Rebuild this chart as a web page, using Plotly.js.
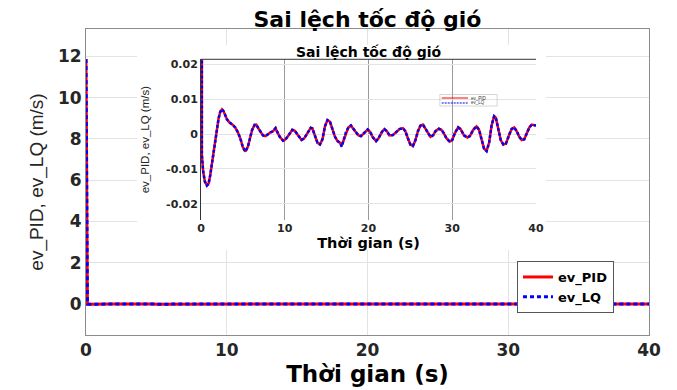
<!DOCTYPE html>
<html>
<head>
<meta charset="utf-8">
<script src="https://cdn.plot.ly/plotly-3.0.1.min.js"></script>
<style>html,body{margin:0;padding:0;background:#fff;}#chart{width:677px;height:390px;}</style>
</head>
<body>
<div id="chart"></div>
<script>
// ---- data ----
const time = [0, 0.1, 0.25, 0.45, 0.7, 0.9, 1.1, 1.3, 1.5, 1.7, 1.9, 2.1, 2.3, 2.5, 2.7, 2.9, 3.1, 3.4, 3.8, 4.1, 4.4, 4.7, 5.0, 5.3, 5.6, 5.85, 6.1, 6.4, 6.6, 6.85, 7.1, 7.4, 7.7, 8.0, 8.3, 8.6, 8.9, 9.1, 9.4, 9.8, 10.1, 10.5, 10.9, 11.2, 11.6, 12.0, 12.3, 12.7, 13.1, 13.3, 13.6, 13.9, 14.2, 14.5, 14.8, 15.1, 15.4, 15.7, 16.0, 16.3, 16.6, 16.8, 17.0, 17.3, 17.6, 17.9, 18.2, 18.5, 18.8, 19.1, 19.5, 19.9, 20.2, 20.5, 20.9, 21.2, 21.6, 21.9, 22.2, 22.5, 22.9, 23.3, 23.7, 24.1, 24.4, 24.7, 25.0, 25.3, 25.6, 25.9, 26.2, 26.5, 26.8, 27.1, 27.4, 27.7, 28.0, 28.4, 28.7, 29.0, 29.3, 29.7, 30.0, 30.3, 30.7, 31.0, 31.4, 31.8, 32.1, 32.5, 32.9, 33.2, 33.5, 33.8, 34.1, 34.4, 34.7, 35.0, 35.2, 35.5, 35.8, 36.1, 36.4, 36.8, 37.1, 37.4, 37.7, 38.0, 38.3, 38.6, 38.9, 39.2, 39.5, 39.8, 40.0];
const evPID = [11.87, -0.006, -0.0105, -0.0135, -0.0147, -0.0142, -0.0118, -0.0085, -0.0052, -0.0018, 0.0015, 0.0045, 0.0064, 0.0071, 0.0065, 0.0054, 0.0042, 0.0033, 0.0026, 0.0018, 0.0005, -0.0013, -0.0038, -0.005, -0.0036, -0.0012, 0.0012, 0.0026, 0.0027, 0.0016, 0.0005, -0.0004, -0.0006, 0.0001, 0.0005, 0.0008, 0.0017, 0.0006, -0.0008, -0.0019, -0.0015, -0.0002, 0.0012, 0.0009, -0.0004, -0.0017, -0.0013, 0.0003, 0.0018, 0.0016, -0.0006, -0.0025, -0.003, -0.0015, 0.0022, 0.004, 0.0035, 0.001, -0.0008, -0.002, -0.0025, -0.0033, -0.002, 0.0005, 0.0019, 0.0024, 0.0015, 0.0006, -0.0004, -0.0006, 0.0004, 0.0013, 0.0006, -0.0009, -0.002, -0.0012, 0.0006, 0.0014, 0.0008, -0.0004, -0.0003, 0.0006, 0.0014, 0.0017, 0.0008, -0.0012, -0.003, -0.0034, -0.0018, 0.0008, 0.0024, 0.0027, 0.0016, 0.0002, -0.0008, -0.0004, 0.0008, 0.0015, 0.0012, 0.0002, -0.0012, -0.0022, -0.0017, 0.0002, 0.0019, 0.0014, -0.0004, -0.001, -0.0006, 0.0012, 0.0022, 0.0012, -0.0015, -0.0042, -0.0048, -0.0025, 0.0025, 0.0051, 0.0047, 0.0012, -0.0018, -0.003, -0.0028, -0.0002, 0.0015, 0.0019, 0.0008, -0.0008, -0.0017, -0.0015, 0.0002, 0.0019, 0.0027, 0.0026, 0.0024];
const evLQ = [11.87, -0.006, -0.0106, -0.0136, -0.0148, -0.0143, -0.0118, -0.0085, -0.0052, -0.0018, 0.0015, 0.0045, 0.0064, 0.0071, 0.0065, 0.0054, 0.0042, 0.0033, 0.0026, 0.0018, 0.0005, -0.0013, -0.0038, -0.005, -0.0036, -0.0012, 0.0012, 0.0026, 0.0027, 0.0016, 0.0005, -0.0004, -0.0006, 0.0001, 0.0005, 0.0008, 0.0017, 0.0006, -0.0008, -0.0019, -0.0015, -0.0002, 0.0012, 0.0009, -0.0004, -0.0017, -0.0013, 0.0003, 0.0018, 0.0016, -0.0006, -0.0025, -0.003, -0.0015, 0.0022, 0.004, 0.0035, 0.001, -0.0008, -0.002, -0.0026, -0.0036, -0.002, 0.0005, 0.0019, 0.0025, 0.0015, 0.0006, -0.0004, -0.0006, 0.0004, 0.0013, 0.0006, -0.0009, -0.002, -0.0012, 0.0006, 0.0014, 0.0008, -0.0004, -0.0003, 0.0006, 0.0014, 0.0017, 0.0008, -0.0012, -0.003, -0.0034, -0.0018, 0.0008, 0.0024, 0.0027, 0.0016, 0.0002, -0.0008, -0.0004, 0.0008, 0.0015, 0.0012, 0.0002, -0.0012, -0.0022, -0.0017, 0.0002, 0.0019, 0.0014, -0.0004, -0.001, -0.0006, 0.0012, 0.0022, 0.0012, -0.0015, -0.0042, -0.0049, -0.0025, 0.0025, 0.0051, 0.0047, 0.0012, -0.0018, -0.003, -0.0028, -0.0002, 0.0015, 0.0019, 0.0008, -0.0008, -0.0017, -0.0015, 0.0002, 0.0019, 0.0027, 0.0026, 0.0024];
const seriesNames = ['ev_PID', 'ev_LQ'];
const mainTicksX = [0, 10, 20, 30, 40];
const mainTicksY = [0, 2, 4, 6, 8, 10, 12];
const insetTicksY = [-0.02, -0.01, 0, 0.01, 0.02];
const insetTickTextY = ['-0.02', '-0.01', '0', '0.01', '0.02'];
const titleText = 'Sai lệch tốc độ gió';
const xTitleText = 'Thời gian (s)';
const yTitleText = 'ev_PID, ev_LQ (m/s)';

// ---- styles ----
const RED = '#ff0000', BLUE = '#0000ff';
const BOLD = 'DejaVu Sans';
const TXT = '#262626';

const traces = [
  {x: time, y: evPID, name: seriesNames[0], type: 'scatter', mode: 'lines',
   line: {color: RED, width: 3}, xaxis: 'x', yaxis: 'y'},
  {x: time, y: evLQ, name: seriesNames[1], type: 'scatter', mode: 'lines',
   line: {color: BLUE, width: 3, dash: '4px,3px'}, xaxis: 'x', yaxis: 'y'},
  // blank white panel behind the inset (no data)
  {x: [], y: [], type: 'scatter', mode: 'lines', showlegend: false, hoverinfo: 'skip',
   xaxis: 'x2', yaxis: 'y2'},
  {x: time, y: evPID, name: seriesNames[0], type: 'scatter', mode: 'lines', showlegend: false,
   line: {color: RED, width: 2.5}, xaxis: 'x3', yaxis: 'y3'},
  {x: time, y: evLQ, name: seriesNames[1], type: 'scatter', mode: 'lines', showlegend: false,
   line: {color: BLUE, width: 2.5, dash: '3px,2px'}, xaxis: 'x3', yaxis: 'y3'}
];

const layout = {
  width: 677, height: 390,
  margin: {l: 86, r: 28, t: 29, b: 55},
  paper_bgcolor: '#ffffff', plot_bgcolor: '#ffffff',
  showlegend: true,
  title: {text: titleText, x: 0.5, xref: 'paper', xanchor: 'center',
          y: 0.95, yref: 'container', yanchor: 'middle',
          font: {family: BOLD, size: 22, weight: 'bold', color: '#000'}},
  xaxis: {domain: [0, 1], range: [0, 40], tickvals: mainTicksX, ticks: '',
          showgrid: true, gridcolor: '#e3e3e3', gridwidth: 1, zeroline: false,
          showline: true, mirror: true, linecolor: '#8c8c8c', linewidth: 1,
          tickfont: {family: BOLD, size: 17, weight: 'bold', color: TXT},
          title: {text: xTitleText, font: {family: BOLD, size: 23, weight: 'bold', color: '#000'}, standoff: 6}},
  yaxis: {domain: [0, 1], range: [-1.5, 13.33], tickvals: mainTicksY, ticks: '',
          showgrid: true, gridcolor: '#e3e3e3', gridwidth: 1, zeroline: false,
          showline: true, mirror: true, linecolor: '#8c8c8c', linewidth: 1,
          tickfont: {family: BOLD, size: 17, weight: 'bold', color: TXT},
          title: {text: yTitleText, font: {family: 'Liberation Sans', size: 19, color: TXT}, standoff: 9}},
  xaxis2: {domain: [0.0906, 0.817], anchor: 'y2', range: [0, 1], visible: false, fixedrange: true},
  yaxis2: {domain: [0.278, 0.948], anchor: 'x2', range: [0, 1], visible: false, fixedrange: true},
  xaxis3: {domain: [0.2043, 0.7993], anchor: 'y3', range: [0, 40], tickvals: mainTicksX, ticks: '',
           showgrid: true, gridcolor: '#9a9a9a', gridwidth: 1, zeroline: false, showline: false,
           tickfont: {family: BOLD, size: 11, weight: 'bold', color: TXT},
           title: {text: xTitleText, font: {family: BOLD, size: 14.5, weight: 'bold', color: '#000'}, standoff: 2}},
  yaxis3: {domain: [0.376, 0.901], anchor: 'x3', range: [-0.0246, 0.0214], tickvals: insetTicksY,
           ticktext: insetTickTextY, ticks: '',
           showgrid: true, gridcolor: '#e3e3e3', gridwidth: 1, zeroline: false,
           showline: true, linecolor: '#333333', linewidth: 1,
           tickfont: {family: BOLD, size: 11, weight: 'bold', color: TXT},
           title: {text: yTitleText, font: {family: 'Liberation Sans', size: 11.5, color: TXT}, standoff: 14}},
  legend: {x: 0.7655, y: 0.2418, xref: 'paper', yref: 'paper', xanchor: 'left', yanchor: 'top',
           bgcolor: '#ffffff', bordercolor: '#555555', borderwidth: 1,
           font: {family: BOLD, size: 13, weight: 'bold', color: '#000'},
           tracegroupgap: 0, itemwidth: 30},
  shapes: [
    // inset top frame line
    {type: 'line', xref: 'x3 domain', yref: 'y3 domain', x0: 0, x1: 1, y0: 1, y1: 1,
     line: {color: '#333333', width: 1}, layer: 'above'},
    // tiny inset legend
    {type: 'rect', xref: 'x3 domain', yref: 'y3 domain', x0: 0.713, x1: 0.884, y0: 0.709, y1: 0.781,
     line: {color: '#bbbbbb', width: 0.6}, fillcolor: 'rgba(255,255,255,0)', layer: 'above'},
    {type: 'line', xref: 'x3 domain', yref: 'y3 domain', x0: 0.7185, x1: 0.797, y0: 0.759, y1: 0.759,
     line: {color: RED, width: 1}, layer: 'above'},
    {type: 'line', xref: 'x3 domain', yref: 'y3 domain', x0: 0.7185, x1: 0.797, y0: 0.728, y1: 0.728,
     line: {color: BLUE, width: 1, dash: '2px,1px'}, layer: 'above'}
  ],
  annotations: [
    {text: titleText, xref: 'x3 domain', yref: 'y3 domain', x: 0.5, y: 1, xanchor: 'center', yanchor: 'bottom',
     yshift: -3, showarrow: false, font: {family: BOLD, size: 14, weight: 'bold', color: '#000'}},
    {text: seriesNames[0], xref: 'x3 domain', yref: 'y3 domain', x: 0.803, y: 0.759, xanchor: 'left', yanchor: 'middle',
     showarrow: false, borderpad: 0, font: {family: 'Liberation Sans', size: 4.5, color: '#333'}},
    {text: seriesNames[1], xref: 'x3 domain', yref: 'y3 domain', x: 0.803, y: 0.728, xanchor: 'left', yanchor: 'middle',
     showarrow: false, borderpad: 0, font: {family: 'Liberation Sans', size: 4.5, color: '#333'}}
  ]
};

Plotly.newPlot('chart', traces, layout, {staticPlot: true, displayModeBar: false});
</script>
</body>
</html>
